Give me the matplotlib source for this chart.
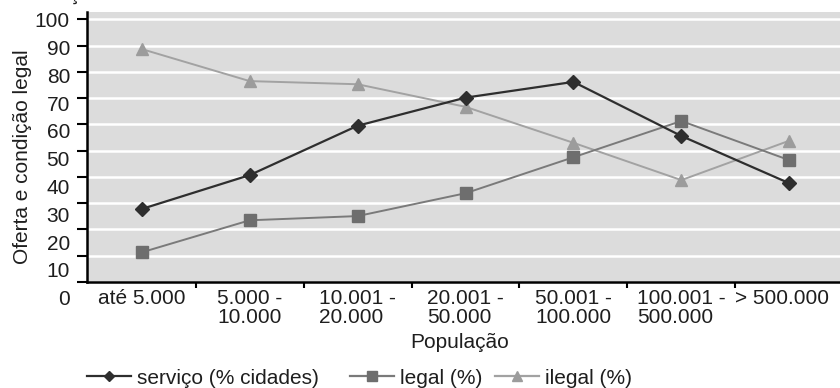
import matplotlib
matplotlib.use("Agg")
import matplotlib.pyplot as plt
from matplotlib.lines import Line2D

plt.rcParams['font.family'] = ['Liberation Sans', 'DejaVu Sans']

categories = ["até 5.000", "5.000 -\n10.000", "10.001 -\n20.000", "20.001 -\n50.000",
              "50.001 -\n100.000", "100.001 -\n500.000", "> 500.000"]
servico = [27.8, 40.7, 59.5, 70.2, 76.2, 55.6, 37.6]
legal = [11.3, 23.5, 25.1, 33.8, 47.5, 61.3, 46.4]
ilegal = [88.7, 76.5, 75.3, 66.7, 53.0, 38.8, 53.8]
yticks = [0, 10, 20, 30, 40, 50, 60, 70, 80, 90, 100]

W, H = 840, 388
fig = plt.figure(figsize=(W / 100, H / 100), dpi=100)
left_px, right_px, top_px, bot_px = 86.7, 840, 12.3, 282
ax = fig.add_axes([left_px / W, 1 - bot_px / H, (right_px - left_px) / W, (bot_px - top_px) / H])
ax.set_facecolor('#dcdcdc')

x = list(range(len(categories)))
c_serv, c_leg, c_ileg = '#2e2e2e', '#6e6e6e', '#9c9c9c'
ax.plot(x, servico, color=c_serv, lw=1.6, marker='D', ms=7, mfc=c_serv, mec=c_serv, zorder=5)
ax.plot(x, legal, color='#7a7a7a', lw=1.4, marker='s', ms=8, mfc=c_leg, mec=c_leg, zorder=4)
ax.plot(x, ilegal, color='#a2a2a2', lw=1.4, marker='^', ms=8.5, mfc=c_ileg, mec=c_ileg, zorder=3)

ax.set_xlim(-0.51, 6.47)
ax.set_ylim(0, 102.7)
ax.set_yticks(yticks)
ax.set_yticklabels([])
ax.yaxis.grid(True, color='white', lw=1.8)
ax.set_axisbelow(True)
ax.tick_params(axis='y', direction='out', length=7, width=1.5, color='black')
ax.set_xticks([i + 0.5 for i in range(len(categories) - 1)])
ax.set_xticklabels([])
ax.tick_params(axis='x', direction='out', length=4, width=1.5, color='black')
for s in ['top', 'right']:
    ax.spines[s].set_visible(False)
for s in ['left', 'bottom']:
    ax.spines[s].set_linewidth(1.8)
    ax.spines[s].set_color('black')

fs = 15
tc = '#1e1e1e'
# y tick labels (as in the reference, progressively offset from the gridlines)
ytr = ax.get_yaxis_transform()
xl = (70 - left_px) / (right_px - left_px)
for v in yticks:
    ax.text(xl, -6.74 + 1.058 * v, str(v), transform=ytr, ha='right', va='center',
            fontsize=fs, color=tc, clip_on=False)

# x category labels
xtr = ax.get_xaxis_transform()
yl = -(289 - bot_px) / (bot_px - top_px)
for i, lab in enumerate(categories):
    xi = i if i < len(categories) - 1 else i - 0.07
    ax.text(xi, yl, lab, transform=xtr, ha='center', va='top', multialignment='left',
            fontsize=fs, color=tc, linespacing=1.0, clip_on=False)

fig.text(23 / W, 1 - 157 / H, 'Oferta e condição legal', rotation=90, ha='center', va='center',
         fontsize=fs, color=tc)
fig.text(460 / W, 1 - 343 / H, 'População', ha='center', va='center', fontsize=fs, color=tc)
fig.text(75 / W, 1.0, '\u00b8', ha='center', va='baseline', fontsize=fs, color=tc)

handles = [
    (Line2D([], [], color=c_serv, lw=1.6, marker='D', ms=5.5, mfc=c_serv, mec=c_serv), 'serviço (% cidades)', 87),
    (Line2D([], [], color='#7a7a7a', lw=1.6, marker='s', ms=6.5, mfc=c_leg, mec=c_leg), 'legal (%)', 350),
    (Line2D([], [], color='#a2a2a2', lw=1.6, marker='^', ms=6.5, mfc=c_ileg, mec=c_ileg), 'ilegal (%)', 495),
]
for h, lab, px in handles:
    leg = fig.legend([h], [lab], loc='center left', bbox_to_anchor=(px / W, 1 - 378 / H),
                     frameon=False, borderpad=0, borderaxespad=0, handlelength=2.1,
                     handletextpad=0.3, fontsize=fs, labelcolor=tc)

fig.savefig('out.png', dpi=100)
